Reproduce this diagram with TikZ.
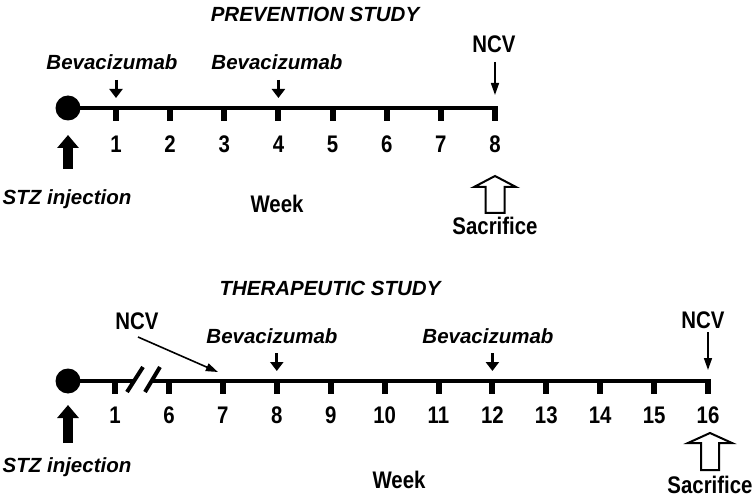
\documentclass[tikz,border=0pt]{standalone}
\usepackage{fontspec}
\setmainfont{Liberation Sans}
\newfontfamily\condf[FakeStretch=0.85]{Liberation Sans}
\usetikzlibrary{arrows.meta}
\begin{document}
\begin{tikzpicture}[x=1pt,y=-1pt,
  uplab/.style={font=\condf\bfseries\fontsize{24}{26}\selectfont,inner sep=0pt,anchor=base},
  itlab/.style={font=\bfseries\itshape\fontsize{20.5}{24}\selectfont,inner sep=0pt,anchor=base},
  axisline/.style={line width=4.5pt},
  tickmark/.style={line width=6pt},
  dot/.style={circle,fill,minimum size=25pt,inner sep=0pt},
  bevarrow/.style={line width=3pt,-{Triangle[width=13pt,length=9pt]}},
  ncvarrow/.style={line width=1.6pt,-{Triangle[width=8pt,length=12pt]}},
  stzarrow/.style={line width=10pt,-{Triangle[width=21pt,length=13pt]}},
  sacarrow/.style={draw,line width=2pt,fill=white,line join=miter},
  breakmark/.style={line width=4pt}
]
\useasboundingbox (0,0) rectangle (755,497);

% ---------------- PREVENTION STUDY ----------------
\node[itlab] (title1) at (315,22) {PREVENTION STUDY};
\node[dot] (s1) at (68,108) {};
\coordinate (e1) at (498,108);
\draw[axisline] (s1.center) -- (e1);
\foreach \n in {1,...,8}{
  \coordinate (p\n) at ({116+(\n-1)*54.14},108);
  \draw[tickmark] (p\n) -- ++(0,13);
  \node[uplab] (pn\n) at ({116+(\n-1)*54.14},153) {\n};
}
\node[itlab] (bevA) at (112,70) {Bevacizumab};
\node[itlab] (bevB) at (277,70) {Bevacizumab};
\draw[bevarrow] (p1) ++(0,-28) -- ++(0,18);
\draw[bevarrow] (p4) ++(0,-28) -- ++(0,18);
\node[uplab] (ncvA) at (494,53) {NCV};
\draw[ncvarrow] (p8) ++(0,-46) -- ++(0,33);
\draw[stzarrow] (s1.center) ++(0,61) -- ++(0,-34);
\node[itlab] (stzA) at (67,205) {STZ injection};
\node[uplab] (weekA) at (277,213) {Week};
\draw[sacarrow] (495,176) -- (516,187) -- (504.5,187) -- (504.5,213) -- (485.5,213) -- (485.5,187) -- (474,187) -- cycle;
\node[uplab] (sacA) at (495,235) {Sacrifice};

% ---------------- THERAPEUTIC STUDY ----------------
\node[itlab] (title2) at (330,295) {THERAPEUTIC STUDY};
\node[dot] (s2) at (68,381) {};
\coordinate (g1) at (135,381);
\coordinate (g2) at (153,381);
\coordinate (e2) at (711,381);
\draw[axisline] (s2.center) -- (g1);
\draw[axisline] (g2) -- (e2);
\draw[breakmark] (127,392) -- (143,367);
\draw[breakmark] (145,392) -- (160,367);
\coordinate (q1) at (115,381);
\draw[tickmark] (q1) -- ++(0,13);
\node[uplab] (qn1) at (115,423) {1};
\foreach \k in {6,...,16}{
  \coordinate (q\k) at ({169+(\k-6)*53.9},381);
  \draw[tickmark] (q\k) -- ++(0,13);
  \node[uplab] (qn\k) at ({169+(\k-6)*53.9},423) {\k};
}
\node[uplab] (ncvB) at (137,329) {NCV};
\coordinate (ncvBtail) at (138,337);
\draw[ncvarrow] (ncvBtail) -- ([xshift=-5pt,yshift=9pt]q7);
\node[itlab] (bevC) at (272,343) {Bevacizumab};
\node[itlab] (bevD) at (488,343) {Bevacizumab};
\draw[bevarrow] (q8) ++(0,-28) -- ++(0,18);
\draw[bevarrow] (q12) ++(0,-28) -- ++(0,18);
\node[uplab] (ncvC) at (703,328) {NCV};
\draw[ncvarrow] (q16) ++(0,-49) -- ++(0,38);
\draw[stzarrow] (s2.center) ++(0,62) -- ++(0,-38);
\node[itlab] (stzB) at (67,472) {STZ injection};
\node[uplab] (weekB) at (399,488) {Week};
\draw[sacarrow] (710,433) -- (732,443) -- (719,443) -- (719,470) -- (701,470) -- (701,443) -- (688,443) -- cycle;
\node[uplab] (sacB) at (710,493) {Sacrifice};
\end{tikzpicture}
\end{document}
